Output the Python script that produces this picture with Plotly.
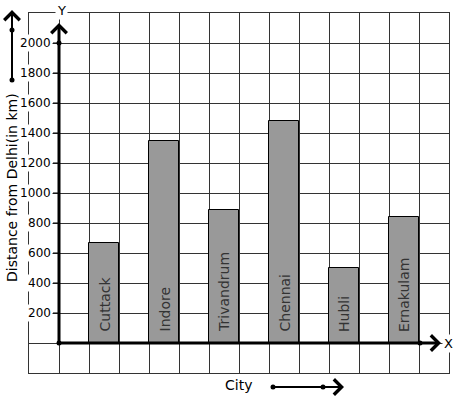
import plotly.graph_objects as go

# ---- data ----
cities = ["Cuttack", "Indore", "Trivandrum", "Chennai", "Hubli", "Ernakulam"]
distances = [670, 1350, 890, 1480, 500, 840]
y_ticks = [200, 400, 600, 800, 1000, 1200, 1400, 1600, 1800, 2000]
x_title = "City"
y_title = "Distance from Delhi(in km)"

# bars sit in every other grid column, starting at column 1
positions = [2 * i + 1.5 for i in range(len(cities))]

W, H = 457, 399
L, R, T, B = 29, 8, 13, 26
PW, PH = W - L - R, H - T - B
X0, X1 = -1, 13
Y0, Y1 = -200, 2200


def px_x(p):
    return X0 + (p - L) * (X1 - X0) / PW


def px_y(p):
    return Y1 - (p - T) * (Y1 - Y0) / PH


def fx(p):
    return (p - L) / PW


def fy(p):
    return 1 - (p - T) / PH


FONT = "DejaVu Sans"
fig = go.Figure()
fig.add_trace(go.Bar(
    x=positions, y=distances, width=1,
    marker=dict(color="#999999", line=dict(color="#000000", width=1)),
    hoverinfo="skip",
))

# tick marks
for v in y_ticks:
    fig.add_shape(type="line", xref="x", yref="y", x0=px_x(53), x1=0, y0=v, y1=v,
                  line=dict(color="#000", width=1))
# thick axes
fig.add_shape(type="line", xref="x", yref="y", x0=0, x1=0, y0=0, y1=px_y(27),
              line=dict(color="#000", width=3))
fig.add_shape(type="line", xref="x", yref="y", x0=0, x1=px_x(436), y0=0, y1=0,
              line=dict(color="#000", width=3))

# dots (pixel positions of the decoration)
for (dx, dy) in [(59, 343), (59, 43), (420, 343), (12, 30), (12, 80), (273, 387), (323, 387)]:
    fig.add_shape(type="circle", xref="paper", yref="paper",
                  xsizemode="pixel", ysizemode="pixel",
                  xanchor=fx(dx), yanchor=fy(dy), x0=-2.5, x1=2.5, y0=-2.5, y1=2.5,
                  fillcolor="#000", line=dict(width=0))

ann = []
# tick labels
for v in y_ticks:
    ann.append(dict(x=0, y=v, xref="x", yref="y", text=str(v), showarrow=False,
                    xanchor="right", yanchor="middle", xshift=-6,
                    font=dict(family=FONT, size=12, color="#000"),
                    bgcolor="white", borderpad=1))
# bar labels
for xp, c in zip(positions, cities):
    ann.append(dict(x=xp, y=0, xref="x", yref="y", text=c, showarrow=False,
                    textangle=-90, xanchor="center", yanchor="bottom", yshift=9,
                    font=dict(family=FONT, size=14, color="#333")))


def arrow(hx, hy, tx, ty):
    return dict(xref="paper", yref="paper", x=fx(hx), y=fy(hy),
                axref="pixel", ayref="pixel", ax=tx - hx, ay=ty - hy,
                text="", showarrow=True, arrowhead=4, arrowcolor="#000",
                arrowwidth=2, arrowsize=1.5, standoff=0, startstandoff=0)


# axis arrows
ann.append(arrow(59, 23, 59, 40))
ann.append(arrow(441, 343, 425, 343))
# decorative arrows
ann.append(arrow(12, 10, 12, 80))
ann.append(arrow(344, 387, 273, 387))


def label(text, x, y, size, angle=0, bg=None):
    d = dict(xref="paper", yref="paper", x=fx(x), y=fy(y), text=text, showarrow=False,
             xanchor="center", yanchor="middle", textangle=angle,
             font=dict(family=FONT, size=size, color="#000"))
    if bg:
        d.update(bgcolor=bg, borderpad=1)
    return d


ann.append(label("Y", 61, 10, 13, bg="white"))
ann.append(label("X", 448, 343, 13, bg="white"))
ann.append(label(x_title, 238, 385, 14))
ann.append(label(y_title, 12, 188, 14, angle=-90))

fig.update_layout(
    width=W, height=H, margin=dict(l=L, r=R, t=T, b=B),
    paper_bgcolor="white", plot_bgcolor="white", showlegend=False,
    annotations=ann, bargap=0,
    xaxis=dict(range=[X0, X1], tick0=X0, dtick=1, showgrid=True, gridcolor="#333",
               gridwidth=1, zeroline=False, showticklabels=False, ticks="",
               showline=True, mirror=True, linecolor="#333", linewidth=1, fixedrange=True),
    yaxis=dict(range=[Y0, Y1], tick0=Y0, dtick=200, showgrid=True, gridcolor="#333",
               gridwidth=1, zeroline=False, showticklabels=False, ticks="",
               showline=True, mirror=True, linecolor="#333", linewidth=1, fixedrange=True),
)
fig.write_html("out.html", config={"displayModeBar": False})

with open("out.html", "r", encoding="utf-8") as f:
    html = f.read()
html = html.replace("<head>", "<head><style>html,body{margin:0;padding:0;overflow:hidden;}</style>", 1)
with open("out.html", "w", encoding="utf-8") as f:
    f.write(html)
